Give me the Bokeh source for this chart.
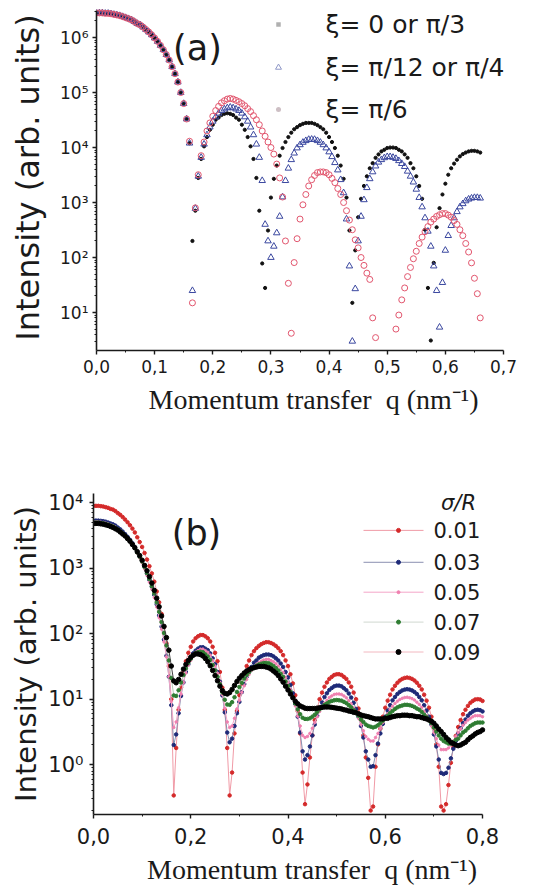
import numpy as np
from bokeh.plotting import figure
from bokeh.models import Range1d, FixedTicker, CustomJSTickFormatter, Label
from bokeh.embed import file_html
from bokeh.resources import INLINE

nan = float("nan")

# ---------------- panel (a): three particle orientations ----------------
q_a = np.round(np.arange(133) * 0.005, 3)          # 0 ... 0.66 nm^-1

# forward-scattering lobe shared by the three orientations (q = 0 ... 0.145)
i_a_central = [
    2.8e6, 2.8e6, 2.8e6, 2.75e6, 2.75e6, 2.7e6, 2.63e6, 2.57e6, 2.5e6, 2.4e6,
    2.3e6, 2.2e6, 2.1e6, 1.95e6, 1.8e6, 1.7e6, 1.55e6, 1.4e6, 1.26e6, 1.12e6,
    9.8e5, 8.5e5, 7.2e5, 6.0e5, 4.9e5, 3.9e5, 2.95e5, 2.2e5, 1.55e5, 1.0e5,
]
# xi = 0 or pi/3
i_xi_0 = i_a_central + [
    6.3e4, 3.3e4, 1.2e4, 200, 710, 2.8e3, 6.2e3, 1.05e4, 1.55e4, 2.1e4,
    2.6e4, 3.2e4, 3.5e4, 3.9e4, 4.1e4, 4.2e4, 4.1e4, 3.9e4, 3.5e4, 3.2e4,
    2.6e4, 2.1e4, 1.55e4, 1.05e4, 6.2e3, 2.8e3, 710, 78, 28, 310,
    1.23e3, 2.7e3, 4.7e3, 7.1e3, 9.8e3, 1.26e4, 1.55e4, 1.86e4, 2.15e4, 2.35e4,
    2.55e4, 2.7e4, 2.8e4, 2.8e4, 2.8e4, 2.7e4, 2.55e4, 2.35e4, 2.15e4, 1.86e4,
    1.55e4, 1.26e4, 9.8e3, 7.1e3, 4.7e3, 2.7e3, 1.23e3, 310, 15, 135,
    540, 1.17e3, 2.0e3, 3.0e3, 4.2e3, 5.2e3, 6.5e3, 7.5e3, 8.5e3, 9.1e3,
    9.8e3, 1.0e4, 1.0e4, 9.8e3, 9.1e3, 8.5e3, 7.5e3, 6.5e3, 5.2e3, 4.2e3,
    3.0e3, 2.0e3, 1.17e3, 320, 28, 3.1, 80, 355, 790, 1.4e3,
    2.2e3, 3.2e3, 4.2e3, 5.1e3, 6.0e3, 6.9e3, 7.6e3, 8.1e3, 8.5e3, 8.7e3,
    8.7e3, 8.5e3, 8.1e3,
]
# xi = pi/12 or pi/4
i_xi_12 = i_a_central + [
    6.3e4, 3.3e4, 1.2e4, 25, 780, 3.0e3, 6.6e3, 1.15e4, 1.7e4, 2.35e4,
    3.0e4, 3.6e4, 4.2e4, 4.7e4, 5.0e4, 5.25e4, 5.4e4, 5.25e4, 5.0e4, 4.7e4,
    4.2e4, 3.6e4, 3.0e4, 2.35e4, 1.7e4, 1.15e4, 6.6e3, 2.5e3, 400, 200,
    100, 160, 280, 560, 1.26e3, 2.5e3, 4.2e3, 6.0e3, 7.9e3, 9.8e3,
    1.12e4, 1.24e4, 1.33e4, 1.4e4, 1.41e4, 1.4e4, 1.33e4, 1.24e4, 1.12e4, 9.8e3,
    8.3e3, 6.8e3, 5.3e3, 3.9e3, 2.6e3, 1.5e3, 500, 70, 3, 27,
    200, 560, 1.12e3, 1.86e3, 2.7e3, 3.6e3, 4.6e3, 5.4e3, 6.0e3, 6.5e3,
    6.8e3, 6.8e3, 6.6e3, 6.3e3, 5.75e3, 5.1e3, 4.5e3, 3.7e3, 3.0e3, 2.35e3,
    1.74e3, 1.23e3, 830, 525, 300, 160, 70, 25, 5.4, 35,
    135, 250, 380, 525, 680, 830, 950, 1.07e3, 1.15e3, 1.2e3,
    1.23e3, 1.23e3, 1.2e3,
]
# xi = pi/6
i_xi_6 = i_a_central + [
    6.3e4, 3.3e4, 1.3e4, 15, 800, 3.2e3, 7.1e3, 1.26e4, 2.0e4, 2.8e4,
    3.7e4, 4.7e4, 5.6e4, 6.5e4, 7.1e4, 7.6e4, 7.8e4, 7.6e4, 7.2e4, 6.8e4,
    6.3e4, 5.75e4, 5.1e4, 4.5e4, 3.8e4, 3.2e4, 2.6e4, 2.0e4, 1.6e4, 1.26e4,
    1.0e4, 7.6e3, 5.0e3, 2.8e3, 1.26e3, 200, 34, 4.2, 81, 220,
    500, 910, 1.4e3, 2.0e3, 2.6e3, 3.1e3, 3.5e3, 3.6e3, 3.6e3, 3.5e3,
    3.2e3, 2.75e3, 2.3e3, 1.8e3, 1.4e3, 1.0e3, 710, 480, 320, 210,
    150, 100, 72, 52, 40, 8, 3.5, nan, nan, nan,
    nan, nan, nan, 5, 9, 17, 28, 45, 66, 95,
    130, 180, 235, 295, 365, 440, 500, 560, 600, 630,
    630, 590, 540, 470, 400, 320, 250, 180, 126, 80,
    42, 22, 8,
]
labels_a = ["ξ= 0 or π/3", "ξ= π/12 or π/4", "ξ= π/6"]

# ---------------- panel (b): size dispersion sigma/R ----------------
q_b = np.round(np.arange(161) * 0.005, 3)          # 0 ... 0.80 nm^-1

i_s01 = [
    8900, 8900, 8900, 8800, 8700, 8500, 8300, 8000, 7800, 7400,
    6900, 6500, 6000, 5500, 5000, 4500, 4000, 3500, 2950, 2500,
    2100, 1700, 1350, 1070, 830, 620, 440, 300, 200, 126,
    71, 32, 10, 0.34, 1.8, 6.9, 15, 26, 38, 51,
    63, 76, 85, 91, 95, 95, 91, 85, 76, 63,
    51, 38, 26, 15, 6.9, 1.8, 0.34, 0.76, 3.0, 6.6,
    11.5, 17.4, 24, 32, 39, 47, 54, 60, 65, 69,
    72, 74, 74, 72, 69, 65, 60, 54, 47, 39,
    32, 24, 17.4, 11.5, 6.6, 3.0, 0.76, 0.25, 0.5, 1.29,
    2.8, 4.8, 7.2, 10, 12.6, 15.5, 18, 20.4, 21.9, 23.4,
    24, 24, 23.4, 21.9, 20.4, 18, 15.5, 12.6, 10, 7.2,
    4.8, 2.8, 1.29, 0.63, 0.2, 0.23, 0.93, 2.04, 3.55, 5.4,
    7.4, 9.5, 11.7, 14.1, 16, 17.8, 19.3, 20.4, 21.1, 21.4,
    21.1, 20.4, 19.3, 17.8, 16, 14.1, 11.7, 9.5, 7.4, 5.4,
    3.55, 2.04, 0.93, 0.23, 0.2, 0.25, 0.49, 1.07, 1.84, 2.75,
    3.76, 4.8, 5.9, 6.9, 7.9, 8.8, 9.4, 9.9, 10, 9.9,
    9.4,
]
i_s03 = [
    5300, 5300, 5300, 5250, 5200, 5100, 4950, 4800, 4650, 4450,
    4150, 3900, 3600, 3300, 3000, 2700, 2400, 2100, 1780, 1500,
    1280, 1040, 830, 660, 520, 390, 280, 190, 128, 81,
    46, 22, 8.1, 2.0, 2.9, 6.1, 11.2, 18, 26, 34,
    42, 50, 55, 59, 62, 62, 59, 56, 50, 42,
    34, 26, 18.5, 11.4, 6.3, 3.1, 2.2, 2.5, 3.9, 6.1,
    9.1, 12.8, 17, 22, 26, 31, 36, 39, 43, 45,
    47, 48, 48, 47, 45, 42, 39, 35, 31, 26,
    21.5, 16.5, 12.3, 8.5, 5.4, 3.1, 1.6, 1.2, 1.4, 1.9,
    2.8, 4.1, 5.6, 7.3, 8.9, 10.8, 12.3, 13.8, 14.8, 15.7,
    16.1, 16.1, 15.7, 14.7, 13.7, 12.2, 10.6, 8.8, 7.1, 5.4,
    3.9, 2.6, 1.6, 1.2, 0.93, 0.95, 1.4, 2.1, 3.0, 4.2,
    5.4, 6.7, 8.1, 9.6, 10.8, 12, 12.9, 13.6, 14, 14.2,
    14, 13.6, 12.9, 12, 10.8, 9.6, 8.1, 6.7, 5.4, 4.1,
    2.9, 1.9, 1.2, 0.75, 0.72, 0.75, 0.9, 1.25, 1.75, 2.3,
    3.0, 3.6, 4.3, 4.9, 5.6, 6.1, 6.5, 6.8, 6.9, 6.8,
    6.5,
]
i_s05 = [
    5070, 5070, 5070, 5020, 4960, 4850, 4730, 4560, 4450, 4220,
    3930, 3700, 3420, 3140, 2850, 2570, 2280, 2000, 1680, 1430,
    1200, 970, 770, 610, 475, 355, 255, 175, 117, 75,
    44, 22, 9.2, 3.7, 4.5, 7.4, 12, 18, 25, 33,
    39, 47, 52, 55, 58, 58, 55, 52, 47, 39,
    32, 24.8, 18, 11.8, 7.3, 4.5, 3.7, 3.9, 5.1, 7.1,
    9.6, 12.7, 16, 20, 23.8, 27.5, 31, 34, 36, 38,
    39.5, 40.5, 40.5, 38.8, 37.3, 34.7, 32, 28.5, 25.6, 21.4,
    18, 14, 10.7, 7.9, 5.5, 3.9, 2.8, 2.6, 2.7, 3.0,
    3.6, 4.4, 5.4, 6.5, 7.5, 8.7, 9.6, 10.6, 11.2, 11.8,
    12, 12, 11.8, 11.2, 10.5, 9.5, 8.5, 7.3, 6.3, 5.1,
    4.1, 3.3, 2.7, 2.45, 2.3, 2.3, 2.6, 3.0, 3.6, 4.4,
    5.2, 6.0, 6.9, 7.8, 8.6, 9.3, 9.9, 10.3, 10.6, 10.7,
    10.5, 10.2, 9.7, 9.0, 8.3, 7.5, 6.5, 5.6, 4.8, 3.9,
    3.1, 2.5, 2.0, 1.7, 1.7, 1.7, 1.8, 2.0, 2.3, 2.7,
    3.1, 3.5, 4.0, 4.4, 4.8, 5.1, 5.4, 5.6, 5.6, 5.6,
    5.4,
]
i_s07 = [
    4940, 4940, 4940, 4880, 4820, 4710, 4600, 4440, 4310, 4100,
    3870, 3630, 3370, 3120, 2840, 2570, 2290, 2020, 1730, 1490,
    1260, 1040, 840, 680, 530, 410, 300, 215, 150, 102,
    66, 39, 21, 11.4, 11.2, 13.7, 18, 23.4, 29.5, 36,
    41.4, 46.9, 50.5, 52, 53, 52, 48.4, 44.6, 39.7, 33.3,
    27.5, 22, 16.9, 12.7, 9.8, 8.3, 8.2, 9.0, 10.7, 12.9,
    15.3, 17.8, 20.6, 23.5, 26, 28.5, 30.6, 32.5, 33.8, 34.8,
    35.6, 35.7, 35.4, 33.8, 32.1, 29.9, 27.5, 24.5, 21.9, 18.6,
    15.9, 13, 10.6, 8.6, 7.0, 5.9, 5.2, 5.0, 5.0, 5.1,
    5.4, 5.8, 6.4, 7.0, 7.5, 8.2, 8.6, 9.1, 9.4, 9.6,
    9.7, 9.6, 9.5, 9.1, 8.7, 8.1, 7.5, 6.8, 6.3, 5.6,
    4.9, 4.5, 4.1, 3.9, 3.8, 3.7, 3.8, 4.0, 4.3, 4.7,
    5.2, 5.6, 6.1, 6.6, 7.1, 7.5, 7.8, 8.0, 8.2, 8.2,
    8.1, 7.9, 7.6, 7.2, 6.9, 6.4, 5.8, 5.3, 4.8, 4.3,
    3.7, 3.2, 2.8, 2.5, 2.3, 2.2, 2.1, 2.1, 2.2, 2.4,
    2.5, 2.8, 3.1, 3.3, 3.6, 3.9, 4.1, 4.3, 4.4, 4.4,
    4.4,
]
i_s09 = [
    4800, 4800, 4800, 4730, 4680, 4570, 4470, 4320, 4170, 3980,
    3800, 3550, 3310, 3090, 2820, 2570, 2290, 2040, 1780, 1550,
    1320, 1100, 910, 740, 590, 457, 347, 257, 186, 129,
    87, 56, 32, 19, 17.8, 20, 24, 28.8, 33.9, 38.9,
    43.7, 46.8, 49, 49, 47.9, 45.7, 41.7, 37.2, 32.4, 27.5,
    22.9, 19.1, 15.8, 13.5, 12.3, 12.0, 12.6, 14.1, 16.2, 18.6,
    20.9, 22.9, 25.1, 26.9, 28.2, 29.5, 30.2, 30.9, 31.6, 31.6,
    31.6, 30.9, 30.2, 28.8, 26.9, 25.1, 22.9, 20.4, 18.2, 15.8,
    13.8, 12.0, 10.5, 9.3, 8.5, 7.9, 7.6, 7.3, 7.2, 7.2,
    7.2, 7.2, 7.3, 7.4, 7.5, 7.6, 7.6, 7.6, 7.5, 7.4,
    7.3, 7.2, 7.1, 6.9, 6.8, 6.6, 6.5, 6.3, 6.2, 6.0,
    5.75, 5.6, 5.5, 5.4, 5.25, 5.1, 5.0, 5.0, 5.0, 5.0,
    5.1, 5.1, 5.25, 5.4, 5.5, 5.6, 5.6, 5.7, 5.7, 5.7,
    5.6, 5.6, 5.5, 5.4, 5.4, 5.25, 5.1, 5.0, 4.8, 4.6,
    4.3, 3.9, 3.5, 3.2, 2.9, 2.6, 2.4, 2.2, 2.1, 2.0,
    1.95, 2.0, 2.1, 2.2, 2.4, 2.6, 2.75, 2.95, 3.1, 3.2,
    3.4,
]
labels_b = ["0.01", "0.03", "0.05", "0.07", "0.09"]

for arr in (i_xi_0, i_xi_12, i_xi_6):
    assert len(arr) == len(q_a), len(arr)
for arr in (i_s01, i_s03, i_s05, i_s07, i_s09):
    assert len(arr) == len(q_b), len(arr)

SANS = "DejaVu Sans"
SERIF = "Liberation Serif"
INK = "#1a1a1a"

SUP_JS = """
const sup = ["\u2070", "\u00b9", "\u00b2", "\u00b3", "\u2074", "\u2075", "\u2076", "\u2077", "\u2078", "\u2079"];
const e = Math.round(Math.log10(tick));
let s = "";
for (const c of String(Math.abs(e))) { s += sup[Number(c)]; }
return "10" + (e < 0 ? "\u207b" : "") + s;
"""
COMMA_JS = "return tick.toFixed(1).replace('.', ',');"


def make_panel(width, height, left, frame_w, top, frame_h, xmax_axis, px_per_unit,
               ymin_axis, ymax_axis, px_per_decade):
    """Panel whose frame reaches past the drawn axes so keys are not clipped."""
    x_end = frame_w / px_per_unit
    ly_top = np.log10(ymin_axis) + frame_h / px_per_decade
    p = figure(width=width, height=height,
               x_range=Range1d(0, x_end), y_range=Range1d(ymin_axis, 10 ** ly_top),
               y_axis_type="log", output_backend="svg", toolbar_location=None,
               min_border_left=left, min_border_right=width - left - frame_w,
               min_border_top=top, min_border_bottom=height - top - frame_h)
    p.outline_line_color = None
    p.grid.visible = False
    p.background_fill_color = "white"
    p.border_fill_color = "white"
    p.xaxis.bounds = (0, xmax_axis)
    p.yaxis.bounds = (ymin_axis, ymax_axis)
    return p


def style_axes(p, xticks, xminor, yticks, yminor, tick_size,
               x_label_size, y_label_size, x_label_gap, y_label_gap,
               x_tick_gap, y_tick_gap):
    xa, ya = p.xaxis[0], p.yaxis[0]
    xa.ticker = FixedTicker(ticks=xticks, minor_ticks=xminor)
    xa.formatter = CustomJSTickFormatter(code=COMMA_JS)
    ya.ticker = FixedTicker(ticks=yticks, minor_ticks=yminor)
    ya.formatter = CustomJSTickFormatter(code=SUP_JS)
    for ax in (xa, ya):
        ax.axis_line_width = 1.6
        ax.axis_line_color = INK
        ax.major_tick_line_width = 1.4
        ax.major_tick_line_color = INK
        ax.minor_tick_line_color = INK
        ax.major_tick_in = 0
        ax.major_tick_out = 4
        ax.minor_tick_in = 0
        ax.minor_tick_out = 2
        ax.major_label_text_font = SANS
        ax.major_label_text_font_size = tick_size
        ax.major_label_text_color = INK
        ax.axis_label_text_color = INK
        ax.axis_label_text_font_style = "normal"
    xa.axis_label = "Momentum transfer\u00a0 q (nm\u207b\u00b9)"
    xa.axis_label_text_font = SERIF
    xa.axis_label_text_font_size = x_label_size
    xa.axis_label_standoff = x_label_gap
    xa.major_label_standoff = x_tick_gap
    ya.axis_label = "Intensity (arb. units)"
    ya.axis_label_text_font = SANS
    ya.axis_label_text_font_size = y_label_size
    ya.axis_label_standoff = y_label_gap
    ya.major_label_standoff = y_tick_gap


def add_text(p, xy, text, size, align="left", style="normal"):
    p.add_layout(Label(x=xy[0], y=xy[1], text=text, text_font=SANS,
                       text_font_size=size, text_font_style=style,
                       text_color=INK, text_align=align,
                       text_baseline="middle"))


decade_minor = [m * 10.0 ** k for k in range(-1, 7) for m in range(2, 10)]

# ---------- panel (a) ----------
A_LEFT, A_TOP, A_W, A_H = 96, 4, 434, 346        # frame box in page pixels
A_PX_UNIT = 407 / 0.7                              # x: 0 -> 96 px, 0.7 -> 503 px
A_PX_DEC = 55.0                                    # y: 10^6 -> 37 px, 10^1 -> 312 px
A_YMIN, A_YMAX = 2.04, 3.1e6                       # drawn extent of the y axis
pa = make_panel(534, 440, A_LEFT, A_W, A_TOP, A_H, 0.7, A_PX_UNIT,
                A_YMIN, A_YMAX, A_PX_DEC)
style_axes(pa,
           xticks=[round(0.1 * k, 1) for k in range(8)],
           xminor=[round(0.05 + 0.1 * k, 2) for k in range(7)],
           yticks=[10.0 ** k for k in range(1, 7)], yminor=decade_minor,
           tick_size="17px", x_label_size="28px", y_label_size="32px",
           x_label_gap=8, y_label_gap=10, x_tick_gap=5, y_tick_gap=4)


def pos_a(px, py):
    """page pixel -> data coordinates of panel (a)"""
    frame_bottom = A_TOP + A_H
    return (px - A_LEFT) / A_PX_UNIT, A_YMIN * 10 ** ((frame_bottom - py) / A_PX_DEC)


pa.scatter(q_a, i_xi_0, marker="circle", size=3.2,
           fill_color="#111111", line_color="#111111")
pa.scatter(q_a, i_xi_12, marker="triangle", size=6.5,
           fill_color=None, line_color="#3b48a0", line_width=1)
pa.scatter(q_a, i_xi_6, marker="circle", size=6,
           fill_color=None, line_color="#e2566e", line_width=1)

# key: faint symbols followed by the orientation labels
key_a = [
    dict(marker="square", size=4.5, fill_color="#b0b0b0", line_color=None),
    dict(marker="triangle", size=6, fill_color=None, line_color="#8f98c8", line_width=1),
    dict(marker="circle", size=5, fill_color="#cdbfc4", line_color=None),
]
for style, text, yc in zip(key_a, labels_a, (24, 67, 109)):
    kx, ky = pos_a(278, yc)
    pa.scatter([kx], [ky], **style)
    add_text(pa, pos_a(325, yc), text, "25px")

add_text(pa, pos_a(197, 47), "(a)", "35px", align="center")

# ---------- panel (b) ----------
B_PAGE_TOP = 440
B_LEFT, B_TOP, B_W, B_H = 93, 53, 437, 322       # frame box within the panel
B_PX_UNIT = 389 / 0.8                              # x: 0 -> 93 px, 0.8 -> 482 px
B_PX_DEC = 65.75                                   # y: 10^4 -> 502 px, 10^0 -> 765 px
B_YMIN, B_YMAX = 0.174, 1.37e4
pb = make_panel(534, 447, B_LEFT, B_W, B_TOP, B_H, 0.8, B_PX_UNIT,
                B_YMIN, B_YMAX, B_PX_DEC)
style_axes(pb,
           xticks=[round(0.2 * k, 1) for k in range(5)],
           xminor=[round(0.1 + 0.2 * k, 1) for k in range(4)],
           yticks=[10.0 ** k for k in range(0, 5)], yminor=decade_minor,
           tick_size="21px", x_label_size="28px", y_label_size="29px",
           x_label_gap=7, y_label_gap=2, x_tick_gap=9, y_tick_gap=6)


def pos_b(px, py):
    """page pixel -> data coordinates of panel (b)"""
    frame_bottom = B_PAGE_TOP + B_TOP + B_H
    return (px - B_LEFT) / B_PX_UNIT, B_YMIN * 10 ** ((frame_bottom - py) / B_PX_DEC)


styles_b = [
    # line colour, marker colour, marker size, key line colour
    ("#f09aa6", "#d42a2a", 3.5, "#f09aa6"),
    ("#8a8fb0", "#1e2a78", 3.5, "#8a8fb0"),
    ("#f4a6c8", "#f080b0", 2.5, "#f4a6c8"),
    ("#b8c8b8", "#2e7d32", 3.5, "#d0d8d0"),
    ("#444444", "#000000", 4.5, "#f2b8c0"),
]
series_b = [i_s01, i_s03, i_s05, i_s07, i_s09]
rows_b = [530, 562, 592, 622, 652]
for vals, (lc, mc, ms, kc), text, yc in zip(series_b, styles_b, labels_b, rows_b):
    pb.line(q_b, vals, line_color=lc, line_width=1)
    pb.scatter(q_b, vals, marker="circle", size=ms, fill_color=mc, line_color=mc)
    # key entry: short line with the series symbol, then its value
    x0, ky = pos_b(363, yc)
    x1, _ = pos_b(423, yc)
    xm, _ = pos_b(398, yc)
    pb.line([x0, x1], [ky, ky], line_color=kc, line_width=1)
    pb.scatter([xm], [ky], marker="circle", size=ms + 0.5, fill_color=mc, line_color=mc)
    add_text(pb, pos_b(433, yc), text, "21px")

add_text(pb, pos_b(458, 503), "σ/R", "21px", align="center", style="italic")
add_text(pb, pos_b(196, 533), "(b)", "35px", align="center")

# two independent roots, stacked top to bottom
open("out.html", "w").write(file_html([pa, pb], INLINE))
